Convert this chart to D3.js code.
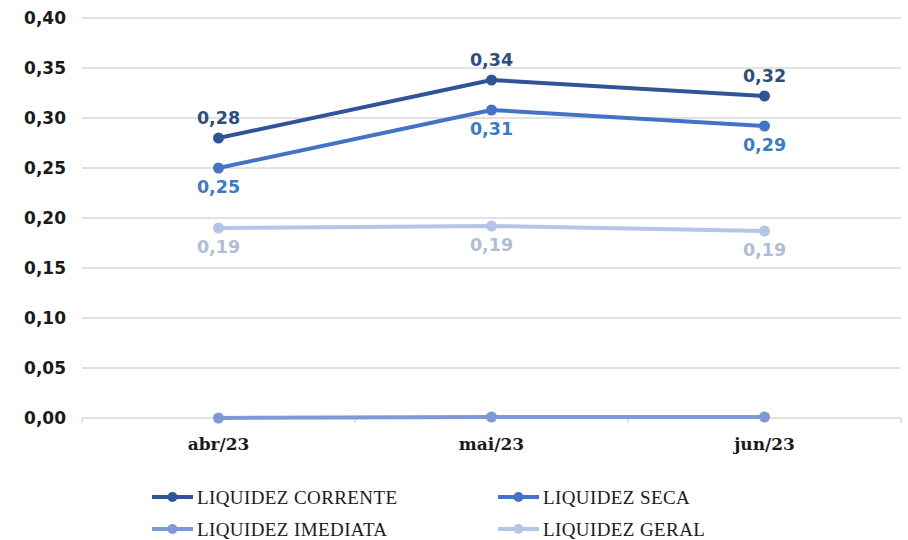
<!DOCTYPE html>
<html>
<head>
<meta charset="utf-8">
<script src="https://cdn.jsdelivr.net/npm/d3@7"></script>
<style>
  body { margin: 0; background: #fff; }
</style>
</head>
<body>
<div id="chart"></div>
<script>
// data
var months = ["abr/23", "mai/23", "jun/23"];
var corrente = [0.28, 0.338, 0.322];
var seca = [0.25, 0.308, 0.292];
var imediata = [0.0, 0.001, 0.001];
var geral = [0.19, 0.192, 0.187];
var yTicks = [0, 0.05, 0.10, 0.15, 0.20, 0.25, 0.30, 0.35, 0.40];

var series = [
    {name: "LIQUIDEZ CORRENTE", values: corrente, color: "#2f5597", labelColor: "#2e4f7e", label: "above"},
    {name: "LIQUIDEZ SECA", values: seca, color: "#4472c4", labelColor: "#3d7cc0", label: "below"},
    {name: "LIQUIDEZ IMEDIATA", values: imediata, color: "#7f98d6", labelColor: null, label: "none"},
    {name: "LIQUIDEZ GERAL", values: geral, color: "#b4c5e6", labelColor: "#b0bdd5", label: "below"}
];

var W = 908, H = 540;
var margin = {top: 18, right: 7, bottom: 122, left: 82};
var width = W - margin.left - margin.right;
var height = H - margin.top - margin.bottom;

var svg = d3.select("#chart").append("svg")
    .attr("width", W)
    .attr("height", H);

var g = svg.append("g")
    .attr("transform", "translate(" + margin.left + "," + margin.top + ")");

var x = d3.scaleBand()
    .domain(months)
    .range([0, width]);

var y = d3.scaleLinear()
    .domain([0, 0.4])
    .range([height, 0]);

var fmt = function (v) {
    return d3.format(".2f")(v).replace(".", ",");
};

// gridlines
g.selectAll(".grid")
    .data(yTicks)
    .enter()
    .append("line")
    .attr("class", "grid")
    .attr("x1", 0)
    .attr("x2", width)
    .attr("y1", function (d) { return y(d); })
    .attr("y2", function (d) { return y(d); })
    .attr("stroke", "#d9d9d9")
    .attr("stroke-width", 1.5);

// y axis labels
g.selectAll(".ylab")
    .data(yTicks)
    .enter()
    .append("text")
    .attr("class", "ylab")
    .attr("x", -16)
    .attr("y", function (d) { return y(d); })
    .attr("dy", "0.36em")
    .attr("text-anchor", "end")
    .attr("font-family", "'DejaVu Sans', sans-serif")
    .attr("font-weight", "bold")
    .attr("font-size", 17)
    .attr("fill", "#1a1a1a")
    .text(fmt);

// category tick marks on the baseline
var bounds = [0].concat(months.map(function (m) { return x(m) + x.bandwidth(); }));
g.selectAll(".xtick")
    .data(bounds)
    .enter()
    .append("line")
    .attr("class", "xtick")
    .attr("x1", function (d) { return d; })
    .attr("x2", function (d) { return d; })
    .attr("y1", height)
    .attr("y2", height + 5)
    .attr("stroke", "#d9d9d9")
    .attr("stroke-width", 1.5);

// x labels
g.selectAll(".xlab")
    .data(months)
    .enter()
    .append("text")
    .attr("class", "xlab")
    .attr("x", function (d) { return x(d) + x.bandwidth() / 2; })
    .attr("y", height + 32)
    .attr("text-anchor", "middle")
    .attr("font-family", "'DejaVu Serif', serif")
    .attr("font-weight", "bold")
    .attr("font-size", 17)
    .attr("fill", "#1a1a1a")
    .text(function (d) { return d; });

var line = d3.line()
    .x(function (d, i) { return x(months[i]) + x.bandwidth() / 2; })
    .y(function (d) { return y(d); });

// draw back to front so corrente sits on top
var drawOrder = [series[3], series[2], series[1], series[0]];

drawOrder.forEach(function (s) {
    g.append("path")
        .datum(s.values)
        .attr("fill", "none")
        .attr("stroke", s.color)
        .attr("stroke-width", 4)
        .attr("stroke-linejoin", "round")
        .attr("d", line);

    g.selectAll(null)
        .data(s.values)
        .enter()
        .append("circle")
        .attr("cx", function (d, i) { return x(months[i]) + x.bandwidth() / 2; })
        .attr("cy", function (d) { return y(d); })
        .attr("r", 5.5)
        .attr("fill", s.color);

    if (s.label !== "none") {
        g.selectAll(null)
            .data(s.values)
            .enter()
            .append("text")
            .attr("x", function (d, i) { return x(months[i]) + x.bandwidth() / 2; })
            .attr("y", function (d) {
                return s.label === "above" ? y(d) - 14 : y(d) + 25;
            })
            .attr("text-anchor", "middle")
            .attr("font-family", "'DejaVu Sans', sans-serif")
            .attr("font-weight", "bold")
            .attr("font-size", 17.5)
            .attr("fill", s.labelColor)
            .text(function (d) { return fmt(d); });
    }
});

// legend, two columns
var legend = svg.selectAll(".legend")
    .data(series)
    .enter()
    .append("g")
    .attr("class", "legend")
    .attr("transform", function (d, i) {
        var col = i % 2;
        var row = Math.floor(i / 2);
        return "translate(" + (152 + col * 346) + "," + (497 + row * 32) + ")";
    });

legend.append("line")
    .attr("x1", 0)
    .attr("x2", 41)
    .attr("y1", 0)
    .attr("y2", 0)
    .attr("stroke", function (d) { return d.color; })
    .attr("stroke-width", 4);

legend.append("circle")
    .attr("cx", 20.5)
    .attr("cy", 0)
    .attr("r", 5)
    .attr("fill", function (d) { return d.color; });

legend.append("text")
    .attr("x", 45)
    .attr("y", 0)
    .attr("dy", "0.35em")
    .attr("font-family", "'Liberation Serif', 'DejaVu Serif', serif")
    .attr("font-size", 19)
    .attr("letter-spacing", 0.4)
    .attr("fill", "#1a1a1a")
    .text(function (d) { return d.name; });
</script>
</body>
</html>
